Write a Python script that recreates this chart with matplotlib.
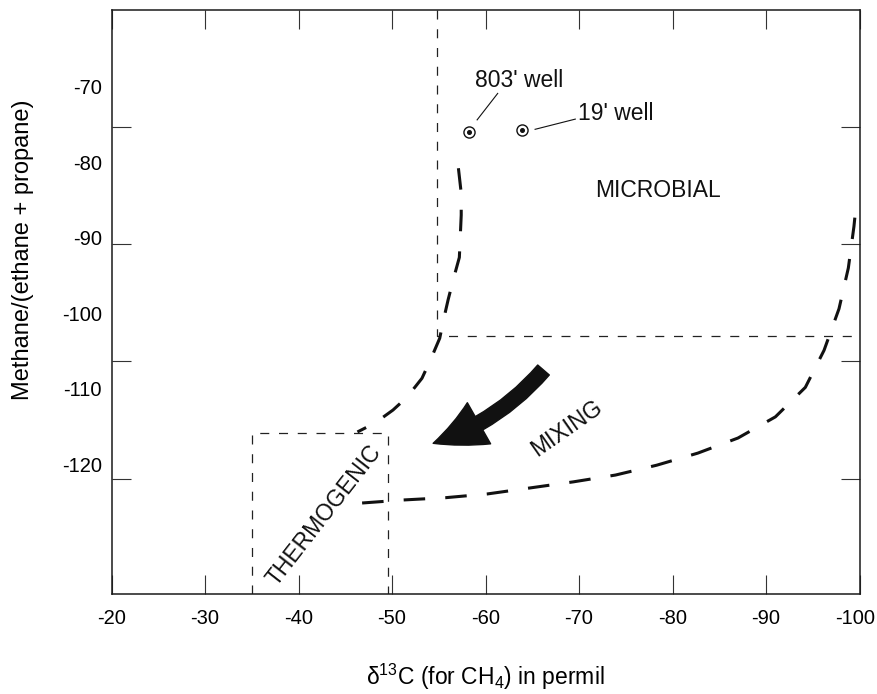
import matplotlib
matplotlib.use("Agg")
import matplotlib.pyplot as plt
import matplotlib.transforms as mtransforms
from matplotlib.patches import FancyArrowPatch

plt.rcParams['font.family'] = ['Liberation Sans', 'DejaVu Sans']
plt.rcParams['mathtext.fontset'] = 'custom'
plt.rcParams['mathtext.rm'] = 'Liberation Sans'
plt.rcParams['mathtext.it'] = 'Liberation Sans:italic'
plt.rcParams['lines.scale_dashes'] = False

# axis ticks
x_ticks = [-20, -30, -40, -50, -60, -70, -80, -90, -100]
y_tick_labels = [-70, -80, -90, -100, -110, -120]
y_tick_marks = [-75.4, -90.8, -106.3, -121.9]   # tick marks sit between the labels in the original

# field boundaries (thin dashed)
microbial_x = [-54.8, -54.8, -100]
microbial_y = [-59.9, -103.0, -103.0]
thermo_x = [-35, -35, -49.6, -49.6]
thermo_y = [-137.2, -115.9, -115.9, -137.2]

# mixing envelope (heavy dashed)
upper_x = [-57.1, -57.4, -57.4, -57.2, -56.6, -56.0, -55.5, -55.1, -54.1, -53.2, -51.6, -50.1, -48.2, -46.3]
upper_y = [-80.8, -84.1, -87.0, -92.6, -95.3, -98.2, -100.9, -103.3, -106.2, -108.6, -111.1, -112.8, -114.5, -115.7]
lower_x = [-46.8, -51.2, -55.7, -60.2, -64.8, -69.4, -73.9, -78.3, -82.7, -87.0, -91.0, -94.2, -96.2,
           -97.8, -98.8, -99.4, -99.7]
lower_y = [-125.1, -124.7, -124.4, -123.9, -123.1, -122.3, -121.4, -120.1, -118.5, -116.5, -113.7, -109.8,
           -104.9, -99.4, -94.0, -88.5, -84.8]

# wells
well_names = ["803' well", "19' well"]
well_x = [-58.2, -63.9]
well_y = [-76.0, -75.8]
label_x = [-58.9, -69.9]
label_y = [-70.1, -74.4]
leader_x = [[-59.1, -61.3], [-65.3, -69.6]]
leader_y = [[-74.4, -70.9], [-75.65, -74.3]]

# mixing arrow (tail -> head)
arrow_tail = (-66.2, -107.5)
arrow_head = (-54.4, -117.2)

fig = plt.figure(figsize=(8.78, 6.94), dpi=100)
ax = fig.add_axes([0.127, 0.144, 0.852, 0.8415])

ax.set_xlim(-20, -100)
ax.set_ylim(-137.15, -59.87)

thin = dict(color='#222222', lw=0.9, dashes=(6.5, 7))
ax.plot(microbial_x, microbial_y, **thin)
ax.plot(thermo_x, thermo_y, **thin)

heavy = dict(color='#111111', lw=2.2, dashes=(15.5, 14.5), dash_capstyle='butt')
ax.plot(upper_x, upper_y, **heavy)
ax.plot(lower_x, lower_y, **heavy)

ax.plot(well_x, well_y, 'o', ms=8, mfc='white', mec='#111111', mew=1.0)
ax.plot(well_x, well_y, 'o', ms=2.6, color='#111111')
for i in range(len(well_names)):
    ax.plot(leader_x[i], leader_y[i], color='#111111', lw=0.8)
    ax.text(label_x[i], label_y[i], well_names[i], fontsize=16.5, ha='left', va='baseline', color='#111111')

arr = FancyArrowPatch(posA=arrow_tail, posB=arrow_head,
                      arrowstyle='simple,head_length=36,head_width=34,tail_width=11',
                      connectionstyle='arc3,rad=-0.14', mutation_scale=1,
                      color='#111111', shrinkA=0, shrinkB=0)
ax.add_patch(arr)

ax.text(-71.7, -84.6, 'MICROBIAL', fontsize=16.5, ha='left', va='baseline', color='#111111')
ax.text(-68.7, -115.2, 'MIXING', fontsize=16.5, rotation=35, ha='center', va='center',
        rotation_mode='anchor', color='#111111')
ax.text(-42.7, -126.7, 'THERMOGENIC', fontsize=16.5, rotation=52, ha='center', va='center',
        rotation_mode='anchor', color='#111111')

# ticks
ax.set_xticks(x_ticks)
ax.set_xticklabels([str(t) for t in x_ticks])
ax.set_yticks(y_tick_labels)
ax.set_yticklabels([str(t) for t in y_tick_labels])
ax.set_yticks(y_tick_marks, minor=True)
ax.tick_params(axis='x', which='major', direction='in', length=14, width=0.8, color='#333333',
               top=True, labelsize=14.5, pad=11)
ax.tick_params(axis='y', which='major', length=0, labelsize=14.5, pad=7)
ax.tick_params(axis='y', which='minor', direction='in', length=14, width=0.8, color='#333333',
               left=True, right=True)

# nudge the last x label so it stays inside the figure
last = ax.get_xticklabels()[-1]
last.set_transform(last.get_transform() + mtransforms.ScaledTranslation(-4 / 100, 0, fig.dpi_scale_trans))

for s in ax.spines.values():
    s.set_linewidth(1.1)
    s.set_color('#1a1a1a')

ax.set_xlabel('δ$^{13}$C (for CH$_4$) in permil', fontsize=16.5, labelpad=24)
ax.set_ylabel('Methane/(ethane + propane)', fontsize=17)
ax.yaxis.set_label_coords(-0.104, 0.59)

fig.savefig('out.png', dpi=100)
